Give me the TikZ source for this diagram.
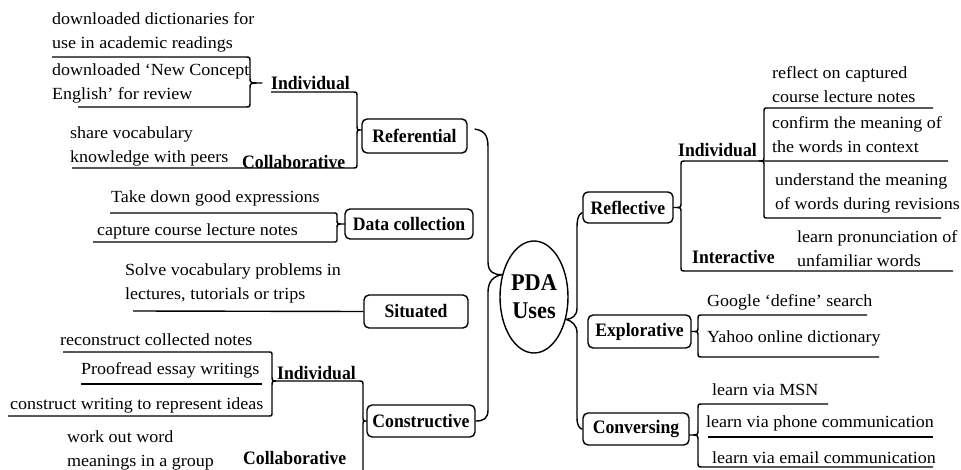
\documentclass[tikz,border=0pt]{standalone}
\usepackage{fontspec}
\setmainfont[FakeStretch=1.06]{Liberation Serif}
\newfontfamily\labfam[FakeStretch=0.93]{Liberation Serif}
\usetikzlibrary{shapes.geometric,calc}
\tikzset{
  txt/.style={font=\fontsize{17}{24}\selectfont, inner sep=0pt, anchor=west, align=left},
  lab/.style={font=\labfam\bfseries\fontsize{19}{22}\selectfont, inner sep=0pt, anchor=west},
  boxnode/.style={draw, line width=1.4pt, rounded corners=5pt, inner sep=0pt,
     font=\labfam\bfseries\fontsize{19}{22}\selectfont},
  ln/.style={line width=1.4pt, line join=round}
}
\begin{document}
\begin{tikzpicture}[x=1pt,y=-1pt]
\useasboundingbox (0,0) rectangle (961,470);

% ---- central ellipse
\node[ellipse, draw, line width=1.4pt, minimum width=68, minimum height=112, inner sep=0pt,
      align=center, font=\labfam\bfseries\fontsize{24}{28}\selectfont] (pda) at (534,297) {PDA\\Uses};

% ---- boxes
\node[boxnode, minimum width=105, minimum height=34] (ref) at (414.5,136) {Referential};
\node[boxnode, minimum width=128, minimum height=30] (dc) at (409,224) {Data collection};
\node[boxnode, minimum width=104, minimum height=33] (sit) at (416,311.5) {Situated};
\node[boxnode, minimum width=108, minimum height=32] (cons) at (421,421) {Constructive};
\node[boxnode, minimum width=90, minimum height=31] (refl) at (628,207.5) {Reflective};
\node[boxnode, minimum width=103, minimum height=33] (expl) at (639.5,331.5) {Explorative};
\node[boxnode, minimum width=106, minimum height=32] (conv) at (636,429) {Conversing};

% ---- left texts
\node[txt] (t1) at (52,32) {downloaded dictionaries for\\use in academic readings};
\node[txt] (t2) at (52,83) {downloaded ‘New Concept\\English’ for review};
\node[txt] (t3) at (70,146) {share vocabulary\\knowledge with peers};
\node[lab] (lind1) at (271,83) {Individual};
\node[lab] (lcol1) at (242,162) {Collaborative};
\node[txt] (t4) at (111,198) {Take down good expressions};
\node[txt] (t5) at (97,231) {capture course lecture notes};
\node[txt] (t6) at (125,283) {Solve vocabulary problems in\\lectures, tutorials or trips};
\node[txt] (t7) at (60,340) {reconstruct collected notes};
\node[txt] (t8) at (81,370) {Proofread essay writings};
\node[txt] (t9) at (10,405) {construct writing to represent ideas};
\node[txt] (t10) at (67,450) {work out word\\meanings in a group};
\node[lab] (lind2) at (277,373) {Individual};
\node[lab] (lcol2) at (243,458) {Collaborative};

% ---- right texts
\node[lab] (rind) at (678,150) {Individual};
\node[lab] (rint) at (692,257) {Interactive};
\node[txt] (r1) at (772,84.5) {reflect on captured\\course lecture notes};
\node[txt] (r2) at (772,134.5) {confirm the meaning of\\the words in context};
\node[txt] (r3) at (775,193.5) {understand the meaning\\of words during revisions};
\node[txt] (r4) at (797,248.5) {learn pronunciation of\\unfamiliar words};
\node[txt] (r5) at (707,302) {Google ‘define’ search};
\node[txt] (r6) at (707,338) {Yahoo online dictionary};
\node[txt] (r7) at (712,390) {learn via MSN};
\node[txt] (r8) at (706,423) {learn via phone communication};
\node[txt] (r9) at (712,458) {learn via email communication};

% ---- left braces
\draw[ln] (52,57) -- (245,57) .. controls (250,57) .. (250,62) -- (250,78)
  .. controls (250,83) .. (262,83) .. controls (250,83) .. (250,88) -- (250,102)
  .. controls (250,107) .. (245,107) -- (78,107);
\draw[ln] (271,92) -- (352,92) .. controls (357,92) .. (357,97) -- (357,125)
  .. controls (357,130) .. ([yshift=6pt]ref.west) .. controls (357,130) .. (357,135)
  -- (357,163) .. controls (357,168) .. (352,168) -- (72,168);
\draw[ln] (110,213) -- (333,213) .. controls (337,213) .. (337,217) -- (337,220)
  .. controls (337,224) .. (dc.west) .. controls (337,224) .. (337,228) -- (337,238)
  .. controls (337,242) .. (333,242) -- (93,242);
\draw[ln] (133,311) -- (sit.west);
\draw[ln] (63,352) -- (268,352) .. controls (272,352) .. (272,356) -- (272,376)
  .. controls (272,381) .. (278,381) .. controls (272,381) .. (272,386) -- (272,412)
  .. controls (272,416) .. (268,416) -- (8,416);
\draw[ln] (81,384) -- (262,384);
\draw[ln] (278,381) -- (358,381) .. controls (363,381) .. (363,386) -- (363,416)
  .. controls (363,421) .. (cons.west) .. controls (363,421) .. (363,426) -- (363,470);

% ---- big braces round the ellipse
\draw[ln] ([xshift=7pt,yshift=7pt]ref.east) .. controls (488,131) and (488,140) .. (488,150)
  -- (488,262) .. controls (488,272) and (494,275) .. (pda.145)
  .. controls (494,276) and (488,281) .. (488,292) -- (488,410)
  .. controls (488,419) and (483,421) .. (cons.east);
\draw[ln] ([yshift=-5pt]refl.west) .. controls (577,215) and (577,222) .. (577,230)
  -- (577,308) .. controls (577,316) and (572,319) .. (pda.-35)
  .. controls (572,321) and (577,325) .. (577,333) -- (577,418)
  .. controls (577,426) and (580,429) .. (conv.west);

% ---- right braces
\draw[ln] (948,161) -- (686,161) .. controls (681,161) .. (681,166) -- (681,203)
  .. controls (681,207.5) .. (refl.east) .. controls (681,207.5) .. (681,212) -- (681,266)
  .. controls (681,271) .. (686,271) -- (953,271);
\draw[ln] (933,108) -- (768,108) .. controls (764,108) .. (764,112) -- (764,156)
  .. controls (764,161) .. (759,161) .. controls (764,161) .. (764,166) -- (764,214)
  .. controls (764,218) .. (768,218) -- (941,218);
\draw[ln] (867,315) -- (703,315) .. controls (698,315) .. (698,320) -- (698,327)
  .. controls (698,331.5) .. (expl.east) .. controls (698,331.5) .. (698,336) -- (698,352)
  .. controls (698,357) .. (703,357) -- (879,357);
\draw[ln] (828,404) -- (703,404) .. controls (698,404) .. (698,409) -- (698,430)
  .. controls (698,435) .. ([yshift=-6pt]conv.east) .. controls (698,435) .. (698,440) -- (698,462)
  .. controls (698,467) .. (703,467) -- (933,467);
\draw[ln] (708,437) -- (933,437);
\end{tikzpicture}
\end{document}
